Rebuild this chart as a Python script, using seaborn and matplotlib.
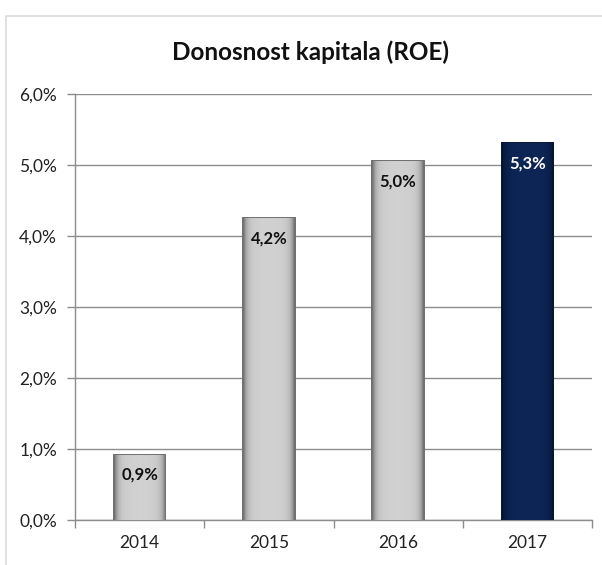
import numpy as np
import pandas as pd
import matplotlib
matplotlib.use("Agg")
import matplotlib.pyplot as plt
import seaborn as sns
from matplotlib.patches import Rectangle

years = ["2014", "2015", "2016", "2017"]
roe = [0.92, 4.25, 5.05, 5.31]
value_labels = ["0,9%", "4,2%", "5,0%", "5,3%"]
yticks = [0, 1, 2, 3, 4, 5, 6]
ytick_labels = ["0,0%", "1,0%", "2,0%", "3,0%", "4,0%", "5,0%", "6,0%"]
title = "Donosnost kapitala (ROE)"

bar_colors = ["#c9c9c9", "#c9c9c9", "#c9c9c9", "#0c2452"]
edge_colors = ["#6e6e6e", "#6e6e6e", "#6e6e6e", "#051230"]
text_colors = ["#111111", "#111111", "#111111", "#ffffff"]

sns.set_style("white")
plt.rcParams["font.family"] = ["Lato", "DejaVu Sans"]

df = pd.DataFrame({"year": years, "roe": roe})

fig = plt.figure(figsize=(6.02, 5.65), dpi=100)
ax = fig.add_axes([75 / 602, 1 - 520 / 565, 517 / 602, 426 / 565])

# outer chart border
fig.patches.append(Rectangle((6 / 602, -0.01), 1, 1 - 16 / 565 + 0.01, transform=fig.transFigure,
                             fill=False, edgecolor="#dcdcdc", linewidth=1.2, zorder=0))

sns.barplot(data=df, x="year", y="roe", hue="year", palette=bar_colors,
            width=0.4, legend=False, ax=ax, zorder=3, saturation=1)

for i, p in enumerate(ax.patches):
    p.set_edgecolor(edge_colors[i])
    p.set_linewidth(1.4)
    x0, y0 = p.get_x(), p.get_y()
    w, h = p.get_width(), p.get_height()
    # horizontal bevel gradient (darker edges, lighter middle)
    t = np.linspace(0, 1, 80)
    d = np.abs(t - 0.5) * 2
    prof = 1.04 - 0.45 * d ** 8 - 0.06 * d ** 2
    base = np.array(matplotlib.colors.to_rgb(bar_colors[i]))
    img = np.clip(base[None, None, :] * prof[None, :, None], 0, 1)
    im = ax.imshow(img, extent=[x0, x0 + w, y0, y0 + h], aspect="auto",
                   zorder=3.5, interpolation="bicubic")
    im.set_clip_path(p)
    ax.text(x0 + w / 2, y0 + h - 0.17, value_labels[i], ha="center", va="top",
            fontsize=12, fontweight="bold", color=text_colors[i], zorder=5)

ax.set_xlim(-0.5, 3.5)
ax.set_ylim(0, 6)
ax.set_yticks(yticks)
ax.set_yticklabels(ytick_labels, fontsize=12.5, color="#222222")
ax.set_xticks(range(len(years)))
ax.set_xticklabels(years, fontsize=12.5, color="#222222")
ax.set_xlabel("")
ax.set_ylabel("")

ax.grid(axis="y", color="#8c8c8c", linewidth=1.0, zorder=0)
ax.set_axisbelow(True)
for s in ["top", "right"]:
    ax.spines[s].set_visible(False)
for s in ["left", "bottom"]:
    ax.spines[s].set_color("#8c8c8c")
    ax.spines[s].set_linewidth(1.0)

ax.tick_params(axis="y", which="major", length=6, width=1, color="#8c8c8c",
               direction="out", pad=7, left=True)
ax.tick_params(axis="x", which="major", length=0, pad=11)
ax.set_xticks([-0.5, 0.5, 1.5, 2.5, 3.5], minor=True)
ax.tick_params(axis="x", which="minor", length=6, width=1, color="#8c8c8c",
               direction="out", bottom=True)

fig.text(0.515, 1 - 52 / 565, title, ha="center", va="center",
         fontsize=17.5, fontweight="bold", color="#111111")

fig.savefig("out.png", dpi=100)
